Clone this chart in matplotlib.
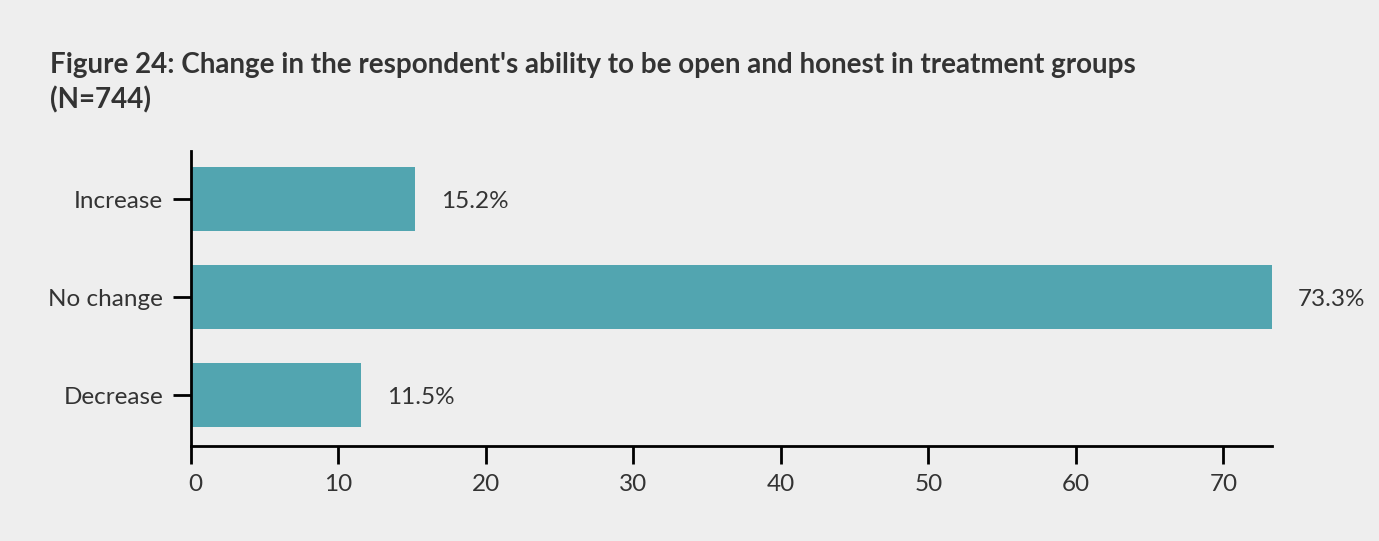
import matplotlib.pyplot as plt
from matplotlib.transforms import offset_copy

plt.rcParams['font.family'] = ['Lato', 'DejaVu Sans']

categories = ['Increase', 'No change', 'Decrease']
values = [15.2, 73.3, 11.5]
x_ticks = [0, 10, 20, 30, 40, 50, 60, 70]

title = "Figure 24: Change in the respondent's ability to be open and honest in treatment groups\n(N=744)"
bg = '#eeeeee'
bar_color = '#52a5b0'
text_color = '#333333'

fig = plt.figure(figsize=(13.79, 5.41), dpi=100, facecolor=bg)
ax = fig.add_axes([0.1385, 0.1756, 0.7839, 0.5453])
ax.set_facecolor(bg)

pos = range(len(categories))
ax.barh(pos, values, height=0.65, color=bar_color)

for y, v in zip(pos, values):
    ax.annotate(f'{v}%', (v, y), xytext=(26, -2), textcoords='offset pixels',
                va='center', ha='left', fontsize=17.5, color=text_color)

ax.set_ylim(2.52, -0.49)
ax.set_xlim(0, max(values))
ax.set_yticks(list(pos))
ax.set_yticklabels(categories)
ax.set_xticks(x_ticks)

for s in ['top', 'right']:
    ax.spines[s].set_visible(False)
for s in ['left', 'bottom']:
    ax.spines[s].set_linewidth(2)
    ax.spines[s].set_color('black')

ax.tick_params(axis='both', length=13, width=2, color='black',
               labelsize=17.5, labelcolor=text_color, pad=7)

# nudge the "0" label off the corner
first = ax.get_xticklabels()[0]
first.set_horizontalalignment('left')
first.set_transform(offset_copy(first.get_transform(), fig=fig, x=-2, y=0, units='points'))

fig.text(0.036, 0.847, title, fontsize=20, fontweight='bold', color=text_color,
         ha='left', va='center', linespacing=1.4)

fig.savefig('out.png', dpi=100, facecolor=bg)
